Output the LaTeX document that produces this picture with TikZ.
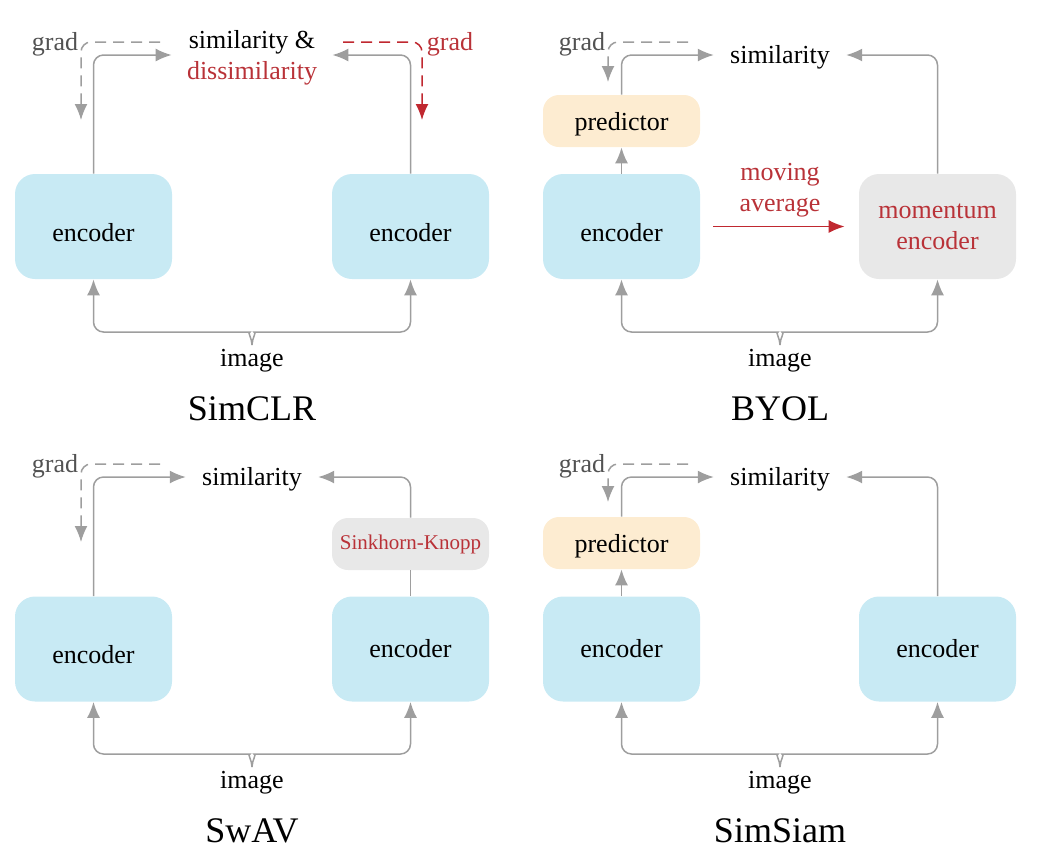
\documentclass[tikz,border=0pt]{standalone}
\usepackage{fontspec}
\setmainfont{Liberation Serif}
\usetikzlibrary{arrows.meta}
\definecolor{encblue}{RGB}{200,234,244}
\definecolor{predorange}{RGB}{253,236,209}
\definecolor{momgray}{RGB}{232,232,232}
\definecolor{arrgray}{RGB}{158,158,158}
\definecolor{gradred}{RGB}{192,40,48}
\definecolor{txtred}{RGB}{185,50,56}

\begin{document}
\begin{tikzpicture}[
		x=0.5pt,y=-0.5pt,
		font=\fontsize{13}{15.5}\selectfont,
		>={Latex[length=8pt,width=6.5pt]},
		box/.style={rectangle,rounded corners=10pt,minimum width=78.5pt,minimum height=52.5pt,inner sep=0pt},
		enc/.style={box,fill=encblue},
		encl/.style={enc,text height=14.5pt,text depth=0pt},
		mom/.style={box,fill=momgray,text=txtred,align=center},
		pred/.style={rectangle,rounded corners=8pt,fill=predorange,minimum width=78.5pt,minimum height=26pt,inner sep=0pt,text height=12pt,text depth=2.8pt},
		sk/.style={rectangle,rounded corners=8pt,fill=momgray,minimum width=78.5pt,minimum height=26pt,inner sep=0pt,text=txtred,font=\fontsize{10.5}{12}\selectfont},
		sim/.style={align=center,inner xsep=7.5pt,inner ysep=0pt},
		sim1/.style={inner xsep=8pt,inner ysep=0pt,text height=10.8pt,text depth=2.8pt},
		lbl/.style={text=black!68},
		ttl/.style={font=\fontsize{18}{21}\selectfont},
		garr/.style={->,draw=arrgray,line width=0.75pt,rounded corners=5pt},
		gdash/.style={garr,dash pattern=on 5.5pt off 3.5pt},
		rdash/.style={gdash,draw=gradred},
		rarr/.style={->,draw=gradred,line width=0.75pt}
		]
		\useasboundingbox (0,0) rectangle (1038,859);
		
		% SimCLR
		\node[encl](e1) at (93.5,226.5){encoder};
		\node[encl](e2) at (410.5,226.5){encoder};
		\node[sim](s1) at (252,58){similarity \&\\\textcolor{txtred}{dissimilarity}};
		\node[lbl](g1) at (55,44){grad};
		\node[text=txtred](g2) at (450,44){grad};
		\coordinate (g1a) at (160,42);
		\coordinate (g1b) at (81,120);
		\coordinate (g2a) at (343,42);
		\coordinate (g2b) at (422,120);
		\coordinate (b1) at (252,345);
		\node(i1) at (252,361){image};
		\node[ttl](t1) at (252,409){SimCLR};
		
		\draw[garr] (e1.north) |- ([yshift=1.5pt]s1.west);
		\draw[garr] (e2.north) |- ([yshift=1.5pt]s1.east);
		\draw[gdash] (g1a) -| (g1b);
		\draw[rdash] (g2a) -| (g2b);
		\draw[garr] (b1) to[out=90,in=0] ++(-12,-13) -| (e1.south);
		\draw[garr] (b1) to[out=90,in=180] ++(12,-13) -| (e2.south);
		
		% BYOL
		\node[encl](e3) at (621.5,226.5){encoder};
		\node[mom](m1) at (937.5,226.5){momentum\\encoder};
		\node[pred](p1) at (621.5,121){predictor};
		\node[sim1](s2) at (780,55){similarity};
		\node[lbl](g3) at (582,44){grad};
		\node[text=txtred,align=center](a1) at (780,190){moving\\average};
		\coordinate (g3a) at (688,42);
		\coordinate (g3b) at (608,82);
		\coordinate (b2) at (780,345);
		\node(i2) at (780,361){image};
		\node[ttl](t2) at (780,409){BYOL};
		
		\draw[garr] (e3.north) -- (p1.south);
		\draw[garr] (p1.north) |- (s2.west);
		\draw[garr] (m1.north) |- (s2.east);
		\draw[gdash] (g3a) -| (g3b);
		\draw[rarr,shorten <=6.5pt,shorten >=7pt] (e3.east) -- (m1.west);
		\draw[garr] (b2) to[out=90,in=0] ++(-12,-13) -| (e3.south);
		\draw[garr] (b2) to[out=90,in=180] ++(12,-13) -| (m1.south);
		
		% SwAV
		\node[encl](e5) at (93.5,649){encoder};
		\node[enc](e6) at (410.5,649){encoder};
		\node[sk](k1) at (410.5,544){Sinkhorn-Knopp};
		\node[sim1](s3) at (252,477){similarity};
		\node[lbl](g5) at (55,466){grad};
		\coordinate (g5a) at (160,464);
		\coordinate (g5b) at (81,542);
		\coordinate (b3) at (252,767);
		\node(i3) at (252,783){image};
		\node[ttl](t3) at (252,831){SwAV};
		
		\draw[garr] (e5.north) |- (s3.west);
		\draw[draw=arrgray,line width=0.75pt] (e6.north) -- (k1.south);
		\draw[garr] (k1.north) |- (s3.east);
		\draw[gdash] (g5a) -| (g5b);
		\draw[garr] (b3) to[out=90,in=0] ++(-12,-13) -| (e5.south);
		\draw[garr] (b3) to[out=90,in=180] ++(12,-13) -| (e6.south);
		
		% SimSiam
		\node[enc](e7) at (621.5,649){encoder};
		\node[enc](e8) at (937.5,649){encoder};
		\node[pred](p2) at (621.5,543){predictor};
		\node[sim1](s4) at (780,477){similarity};
		\node[lbl](g7) at (582,466){grad};
		\coordinate (g7a) at (688,464);
		\coordinate (g7b) at (608,502);
		\coordinate (b4) at (780,767);
		\node(i4) at (780,783){image};
		\node[ttl](t4) at (780,831){SimSiam};
		
		\draw[garr] (e7.north) -- (p2.south);
		\draw[garr] (p2.north) |- (s4.west);
		\draw[garr] (e8.north) |- (s4.east);
		\draw[gdash] (g7a) -| (g7b);
		\draw[garr] (b4) to[out=90,in=0] ++(-12,-13) -| (e7.south);
		\draw[garr] (b4) to[out=90,in=180] ++(12,-13) -| (e8.south);
		
\end{tikzpicture}
\end{document}
